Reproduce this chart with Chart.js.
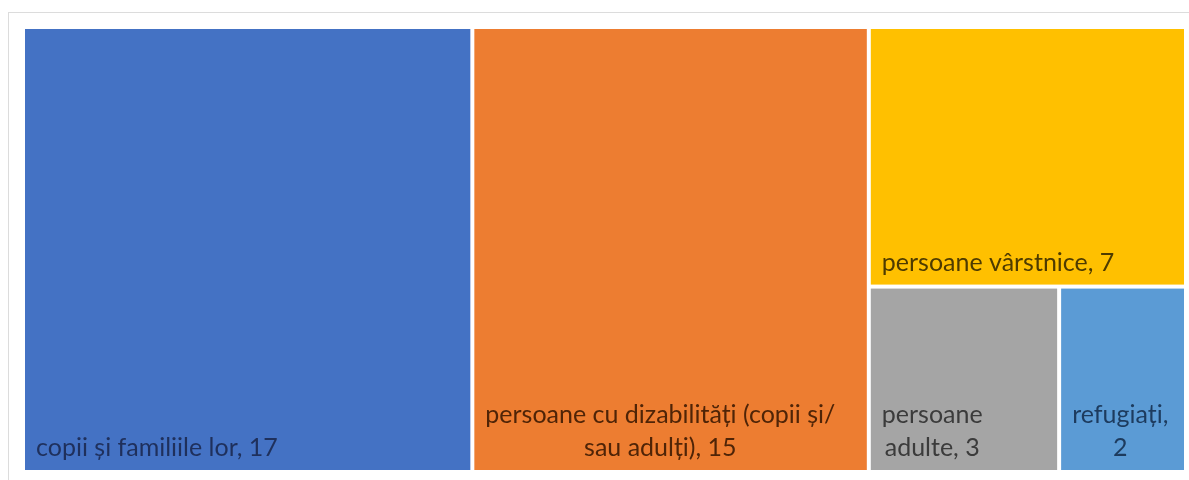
<!DOCTYPE html>
<html>
<head>
<meta charset="utf-8">
<script src="https://cdn.jsdelivr.net/npm/chart.js@4/dist/chart.umd.min.js"></script>
<style>
  html, body { margin: 0; padding: 0; background: #fff; overflow: hidden; }
  #wrap { width: 1189px; height: 480px; }
</style>
</head>
<body>
<div id="wrap"><canvas id="myChart" width="1189" height="480"></canvas></div>
<script>
// date
const categorii = ['copii și familiile lor', 'persoane cu dizabilități (copii și/sau adulți)', 'persoane vârstnice', 'persoane adulte', 'refugiați'];
const valori = [17, 15, 7, 3, 2];
const culori = ['#4472C4', '#ED7D31', '#FFC000', '#A5A5A5', '#5B9BD5'];
const culoriText = ['#1f305c', '#4f2407', '#4e3b00', '#3b3b3b', '#1d3b5e'];

const total = valori.reduce((a, b) => a + b, 0);

// squarified layout in scale units (x: 0..total, y: 0..1)
function layoutTreemap(chart) {
    const xs = chart.scales.x, ys = chart.scales.y;
    const kx = chart.chartArea.width / total;
    const ky = chart.chartArea.height;
    const items = valori.map((v, i) => ({ v: v, i: i })).sort((a, b) => b.v - a.v);
    let rect = { x: 0, y: 0, w: total, h: 1 };
    const out = [];

    function worst(row, r) {
        const s = row.reduce((a, b) => a + b.v, 0);
        let m = 0;
        row.forEach(it => {
            let pw, ph;
            if (r.w * kx >= r.h * ky) { pw = s / r.h * kx; ph = it.v / s * r.h * ky; }
            else { ph = s / r.w * ky; pw = it.v / s * r.w * kx; }
            m = Math.max(m, pw / ph, ph / pw);
        });
        return m;
    }

    let i = 0;
    while (i < items.length) {
        let row = [items[i]];
        i++;
        while (i < items.length && worst(row.concat([items[i]]), rect) <= worst(row, rect)) {
            row.push(items[i]);
            i++;
        }
        const s = row.reduce((a, b) => a + b.v, 0);
        if (rect.w * kx >= rect.h * ky) {
            const cw = s / rect.h;
            let y0 = rect.y;
            row.forEach(it => {
                const hh = it.v / s * rect.h;
                out.push({ i: it.i, x: rect.x, y: y0, w: cw, h: hh });
                y0 += hh;
            });
            rect = { x: rect.x + cw, y: rect.y, w: rect.w - cw, h: rect.h };
        } else {
            const rh = s / rect.w;
            let x0 = rect.x;
            row.forEach(it => {
                const ww = it.v / s * rect.w;
                out.push({ i: it.i, x: x0, y: rect.y, w: ww, h: rh });
                x0 += ww;
            });
            rect = { x: rect.x, y: rect.y + rh, w: rect.w, h: rect.h - rh };
        }
    }
    return out.map(r => ({
        i: r.i,
        left: xs.getPixelForValue(r.x) + 2,
        right: xs.getPixelForValue(r.x + r.w) - 2,
        top: ys.getPixelForValue(r.y) + 2,
        bottom: ys.getPixelForValue(r.y + r.h) - 2
    }));
}

function wrapText(ctx, text, maxW) {
    const segs = text.split(/(?<=[ \/])/);
    const lines = [];
    let line = '';
    segs.forEach(seg => {
        const test = line + seg;
        if (line && ctx.measureText(test.trimEnd()).width > maxW) {
            lines.push(line.trimEnd());
            line = seg;
        } else {
            line = test;
        }
    });
    if (line) lines.push(line.trimEnd());
    return lines;
}

const treemapPlugin = {
    id: 'treemap',
    beforeDraw(chart) {
        const ctx = chart.ctx;
        ctx.save();
        ctx.strokeStyle = '#dcdcdc';
        ctx.lineWidth = 1;
        ctx.strokeRect(8.5, 12.5, 1200, 500);
        ctx.restore();
    },
    afterDatasetsDraw(chart) {
        const ctx = chart.ctx;
        const rects = layoutTreemap(chart);
        const pad = 11;
        const lineH = 33;
        ctx.save();
        rects.forEach(r => {
            ctx.fillStyle = culori[r.i];
            ctx.fillRect(r.left, r.top, r.right - r.left, r.bottom - r.top);
        });
        ctx.font = '25px Lato';
        ctx.textBaseline = 'alphabetic';
        ctx.textAlign = 'center';
        rects.forEach(r => {
            const label = categorii[r.i] + ', ' + valori[r.i];
            const lines = wrapText(ctx, label, r.right - r.left - 2 * pad);
            const blockW = Math.max.apply(null, lines.map(l => ctx.measureText(l).width));
            const cx = r.left + pad + blockW / 2;
            ctx.fillStyle = culoriText[r.i];
            lines.forEach((l, k) => {
                const y = r.bottom - 14 - (lines.length - 1 - k) * lineH;
                ctx.fillText(l, cx, y);
            });
        });
        ctx.restore();
    }
};

const ctx = document.getElementById('myChart').getContext('2d');
const myChart = new Chart(ctx, {
    type: 'scatter',
    data: { datasets: [{ data: [] }] },
    options: {
        responsive: false,
        animation: false,
        events: [],
        layout: { padding: { left: 23, top: 27, right: 3, bottom: 8 } },
        plugins: { legend: { display: false }, tooltip: { enabled: false } },
        scales: {
            x: { type: 'linear', min: 0, max: total, display: false },
            y: { type: 'linear', min: 0, max: 1, reverse: true, display: false }
        }
    },
    plugins: [treemapPlugin]
});
</script>
</body>
</html>
